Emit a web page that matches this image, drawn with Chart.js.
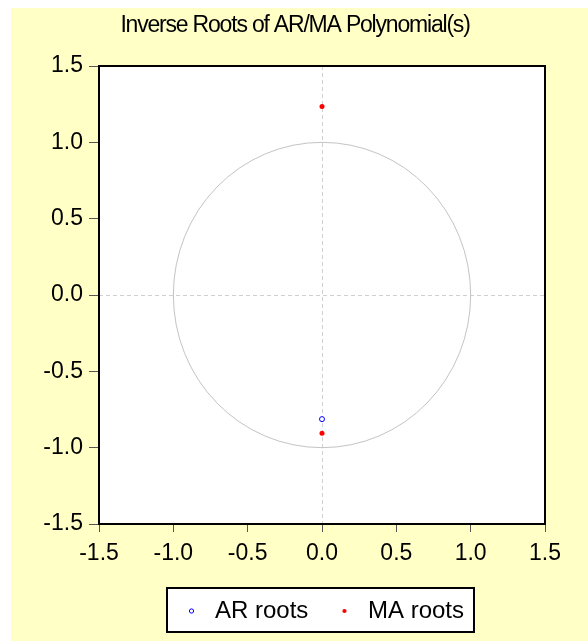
<!DOCTYPE html>
<html><head><meta charset="utf-8">
<script src="https://cdn.jsdelivr.net/npm/chart.js@4"></script>
<style>html,body{margin:0;padding:0;background:#fff;} canvas{display:block;}</style>
</head><body>
<canvas id="c" width="588" height="641" style="width:588px;height:641px"></canvas>
<script>
const titleText = 'Inverse Roots of AR/MA Polynomial(s)';
const seriesNames = ['AR roots', 'MA roots'];
const arRootsRe = [0.0];
const arRootsIm = [-0.813];
const maRootsRe = [0.0, 0.0];
const maRootsIm = [1.235, -0.905];
const axisTicks = [-1.5, -1.0, -0.5, 0.0, 0.5, 1.0, 1.5];
const unitRadius = 1;

const toPoints = (re, im) => re.map((r, i) => ({x: r, y: im[i]}));
const FONT = "'Liberation Sans', Arial, sans-serif";

const bgPlugin = {
  id: 'bg',
  beforeDraw(chart) {
    const {ctx, chartArea: a, legend} = chart;
    ctx.save();
    ctx.fillStyle = '#fff'; ctx.fillRect(0, 0, chart.width, chart.height);
    ctx.fillStyle = '#FFFFC6'; ctx.fillRect(11, 8, chart.width - 11, chart.height - 8);
    ctx.fillStyle = '#fff'; ctx.fillRect(a.left, a.top, a.right - a.left, a.bottom - a.top);
    const hb = legend.legendHitBoxes;
    if (hb && hb.length) {
      const first = hb[0], last = hb[hb.length - 1];
      const cy = first.top + first.height / 2;
      const x0 = first.left - 13, x1 = last.left + last.width + 10;
      const y0 = cy - 23, y1 = cy + 21;
      ctx.fillStyle = '#fff'; ctx.fillRect(x0, y0, x1 - x0, y1 - y0);
      ctx.strokeStyle = '#000'; ctx.lineWidth = 2; ctx.strokeRect(x0, y0, x1 - x0, y1 - y0);
    }
    ctx.restore();
  },
  beforeDatasetsDraw(chart) {
    const {ctx, chartArea: a, scales: {x, y}} = chart;
    const x0 = x.getPixelForValue(0), y0 = y.getPixelForValue(0);
    ctx.save();
    ctx.beginPath(); ctx.rect(a.left, a.top, a.right - a.left, a.bottom - a.top); ctx.clip();
    ctx.strokeStyle = '#d0d0d0'; ctx.lineWidth = 1; ctx.setLineDash([4, 3]);
    ctx.beginPath();
    ctx.moveTo(Math.round(x0) + 0.5, a.top); ctx.lineTo(Math.round(x0) + 0.5, a.bottom);
    ctx.moveTo(a.left, Math.round(y0) + 0.5); ctx.lineTo(a.right, Math.round(y0) + 0.5);
    ctx.stroke();
    ctx.setLineDash([]);
    const rx = x.getPixelForValue(unitRadius) - x0, ry = y0 - y.getPixelForValue(unitRadius);
    ctx.strokeStyle = '#c4c4c4';
    ctx.beginPath(); ctx.ellipse(x0, y0, rx, ry, 0, 0, Math.PI * 2); ctx.stroke();
    ctx.restore();
    ctx.save();
    ctx.strokeStyle = '#000'; ctx.lineWidth = 2;
    ctx.strokeRect(a.left, a.top, a.right - a.left, a.bottom - a.top);
    ctx.restore();
  },
  afterDraw(chart) {
    const ctx = chart.ctx;
    ctx.save();
    ctx.font = "23px " + FONT;
    if ('letterSpacing' in ctx) ctx.letterSpacing = '-1.2px';
    ctx.fillStyle = '#000';
    ctx.textAlign = 'center';
    ctx.textBaseline = 'alphabetic';
    ctx.fillText(titleText, 295, 31.5);
    ctx.restore();
  }
};

new Chart(document.getElementById('c'), {
  type: 'scatter',
  data: {
    datasets: [
      {label: seriesNames[0], data: toPoints(arRootsRe, arRootsIm), pointStyle: 'circle',
       pointRadius: 2.5, borderWidth: 1, borderColor: '#0000ff', backgroundColor: '#ffffff'},
      {label: seriesNames[1], data: toPoints(maRootsRe, maRootsIm), pointStyle: 'circle',
       pointRadius: 2.5, borderWidth: 0, borderColor: '#ff0000', backgroundColor: '#ff0000'}
    ]
  },
  options: {
    responsive: false, animation: false, devicePixelRatio: 1,
    layout: {padding: {top: 66, right: 43, bottom: 8, left: 0}},
    plugins: {
      title: {display: false},
      legend: {position: 'bottom', fullSize: false, align: 'center',
               labels: {usePointStyle: true, boxWidth: 23, boxHeight: 3, padding: 24.6, color: '#000',
                        font: {family: FONT, size: 24}}},
      tooltip: {enabled: false}
    },
    scales: {
      x: {type: 'linear', min: -1.5, max: 1.5,
          afterBuildTicks(s) { s.ticks = axisTicks.map(v => ({value: v})); },
          afterFit(s) { s.height = 50.4; },
          grid: {drawOnChartArea: false, drawTicks: true, tickLength: 8, color: '#555', lineWidth: 1},
          border: {display: false},
          ticks: {padding: 8, color: '#000', font: {family: FONT, size: 23}, maxRotation: 0, autoSkip: false,
                  callback: v => Number(v).toFixed(1)}},
      y: {type: 'linear', min: -1.5, max: 1.5,
          afterBuildTicks(s) { s.ticks = axisTicks.map(v => ({value: v})); },
          afterFit(s) { s.width = 99; },
          grid: {drawOnChartArea: false, drawTicks: true, tickLength: 10, color: '#555', lineWidth: 1},
          border: {display: false},
          ticks: {padding: 6, color: '#000', font: {family: FONT, size: 23}, autoSkip: false,
                  callback: v => Number(v).toFixed(1)}}
    }
  },
  plugins: [bgPlugin]
});
</script>
</body></html>
